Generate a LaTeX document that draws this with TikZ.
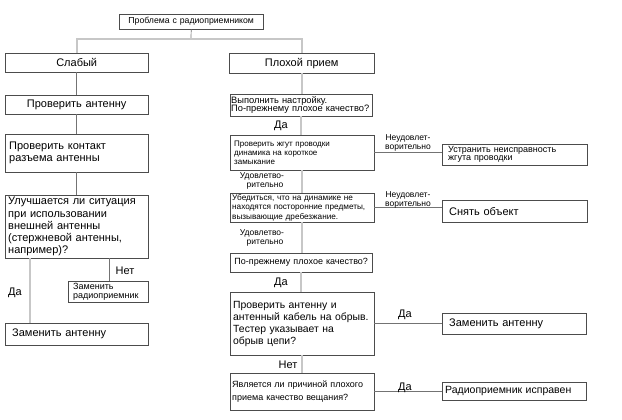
\documentclass[tikz,border=0pt]{standalone}
\usepackage{fontspec}
\setmainfont{Liberation Sans}
\usetikzlibrary{shadows}

\tikzset{
  box/.style={draw=black!70, fill=white, anchor=north west, align=left,
    inner xsep=4pt, inner ysep=1pt, font=\fontsize{8.5}{9}\selectfont,
    drop shadow={shadow xshift=1pt, shadow yshift=-1pt, fill=black!35, opacity=1}},
  bigtext/.style={font=\fontsize{11}{12.2}\selectfont},
  darkline/.style={draw=black!55, line width=0.7pt},
  lightline/.style={draw=black!22, line width=1.6pt},
  lbl/.style={inner sep=0pt, font=\fontsize{11}{12}\selectfont},
  smalllbl/.style={inner sep=0pt, align=center, font=\fontsize{8.5}{8.5}\selectfont}
}

\begin{document}
\begin{tikzpicture}[x=1pt, y=-1pt]
    \useasboundingbox (0,0) rectangle (622,420);

    % Define the positions of the boxes
    \coordinate (problemPos) at (119, 14);
    \coordinate (weakPos) at (5, 53);
    \coordinate (badPos) at (229, 53);
    \coordinate (antennaPos) at (5, 95);
    \coordinate (contactPos) at (5, 134);
    \coordinate (improvePos) at (5, 195);
    \coordinate (radioPos) at (68, 281);
    \coordinate (replaceLPos) at (5, 323);

    \coordinate (tunePos) at (230, 94);
    \coordinate (harnessPos) at (230, 135);
    \coordinate (speakerPos) at (230, 193);
    \coordinate (stillPos) at (230, 253);
    \coordinate (cablePos) at (230, 292);
    \coordinate (qualityPos) at (230, 373);

    \coordinate (fixPos) at (442, 144);
    \coordinate (removePos) at (442, 200);
    \coordinate (replaceRPos) at (442, 313);
    \coordinate (finePos) at (442, 382);

    \coordinate (fork) at (191, 39);
    \coordinate (yesLeft) at (30, 0);
    \coordinate (noLeft) at (109, 0);

    % Draw the boxes
    \node[box, align=center, minimum width=144, minimum height=15, text width=136,
      font=\fontsize{8.7}{9}\selectfont] (problem) at (problemPos) {Проблема с радиоприемником};

    \node[box, bigtext, align=center, minimum width=143, minimum height=19, text width=135] (weak) at (weakPos) {Слабый};
    \node[box, bigtext, align=center, minimum width=143, minimum height=19, text width=135] (antenna) at (antennaPos) {Проверить антенну};
    \node[box, bigtext, minimum width=143, minimum height=38, text width=135] (contact) at (contactPos)
      {Проверить контакт\\разъема антенны};
    \node[box, bigtext, minimum width=143, minimum height=63, text width=137, inner xsep=3pt] (improve) at (improvePos)
      {Улучшается ли ситуация\\при использовании\\внешней антенны\\(стержневой антенны,\\например)?};
    \node[box, inner xsep=5pt, minimum width=80, minimum height=21, text width=70,
      font=\fontsize{9}{9}\selectfont] (radio) at (radioPos)
      {Заменить\\радиоприемник};
    \node[box, bigtext, inner xsep=7pt, minimum width=143, minimum height=22, text width=129] (replaceL) at (replaceLPos)
      {Заменить антенну};

    \node[box, bigtext, align=center, minimum width=145, minimum height=20, text width=137] (bad) at (badPos) {Плохой прием};
    \node[box, inner xsep=1pt, minimum width=142, minimum height=22, text width=140,
      font=\fontsize{9.3}{8.5}\selectfont] (tune) at (tunePos)
      {Выполнить настройку.\\По-прежнему плохое качество?};
    \node[box, minimum width=144, minimum height=35, text width=136,
      font=\fontsize{8}{9.2}\selectfont] (harness) at (harnessPos)
      {Проверить жгут проводки\\динамика на короткое\\замыкание};
    \node[box, inner xsep=2pt, minimum width=144, minimum height=29, text width=140,
      font=\fontsize{8.2}{9.6}\selectfont] (speaker) at (speakerPos)
      {Убедиться, что на динамике не\\находятся посторонние предметы,\\вызывающие дребезжание.};
    \node[box, align=center, inner xsep=2pt, minimum width=142, minimum height=19, text width=138,
      font=\fontsize{9}{10}\selectfont] (still) at (stillPos)
      {По-прежнему плохое качество?};
    \node[box, minimum width=144, minimum height=63, text width=138, inner xsep=3pt,
      font=\fontsize{10.4}{12}\selectfont] (cable) at (cablePos)
      {Проверить антенну и\\антенный кабель на обрыв.\\Тестер указывает на\\обрыв цепи?};
    \node[box, inner xsep=2pt, minimum width=142, minimum height=37, text width=140,
      font=\fontsize{9}{12.5}\selectfont] (quality) at (qualityPos)
      {Является ли причиной плохого\\приема качество вещания?};

    \node[box, inner xsep=6pt, minimum width=145, minimum height=21, text width=133,
      font=\fontsize{9}{8}\selectfont] (fix) at (fixPos)
      {Устранить неисправность\\жгута проводки};
    \node[box, bigtext, inner xsep=7pt, minimum width=145, minimum height=22, text width=131] (remove) at (removePos)
      {Снять объект};
    \node[box, bigtext, inner xsep=7pt, minimum width=144, minimum height=21, text width=130] (replaceR) at (replaceRPos)
      {Заменить антенну};
    \node[box, inner xsep=3pt, minimum width=144, minimum height=18, text width=138,
      font=\fontsize{10.5}{12}\selectfont] (fine) at (finePos)
      {Радиоприемник исправен};

    % Draw the lines
    \draw[darkline] (problem.south) -- (fork);
    \draw[lightline] (weak.north) |- (fork) -| (bad.north);

    \draw[darkline] (weak.south) -- (weak.south |- antenna.north);
    \draw[darkline] (antenna.south) -- (antenna.south |- contact.north);
    \draw[darkline] (contact.south) -- (contact.south |- improve.north);
    \draw[darkline] (improve.south -| noLeft) -- (radio.north -| noLeft);
    \draw[lightline] (improve.south -| yesLeft) -- (replaceL.north -| yesLeft);

    \draw[lightline] (bad.south) -- (bad.south |- tune.north);
    \draw[lightline] (tune.south) -- (tune.south |- harness.north);
    \draw[lightline] (harness.south) -- (harness.south |- speaker.north);
    \draw[lightline] (speaker.south) -- (speaker.south |- still.north);
    \draw[lightline] (still.south) -- (still.south |- cable.north);
    \draw[lightline] (cable.south) -- (cable.south |- quality.north);

    \draw[darkline] (harness.east) -- (harness.east -| fix.west);
    \draw[darkline] (speaker.east) -- (speaker.east -| remove.west);
    \draw[darkline] (cable.east) -- (cable.east -| replaceR.west);
    \draw[darkline] (quality.east) -- (quality.east -| fine.west);

    % Draw the labels
    \node[lbl] (noL) at (125, 271) {Нет};
    \node[lbl] (yesL) at (15, 293) {Да};
    \node[lbl] (yesTune) at (281, 126) {Да};
    \node[lbl] (yesStill) at (281, 283) {Да};
    \node[lbl] (noCable) at (288, 365) {Нет};
    \node[lbl] (yesCable) at (405, 315) {Да};
    \node[lbl] (yesQuality) at (405, 388) {Да};

    \node[smalllbl] (badHarness) at (408, 143) {Неудовлет-\\ворительно};
    \node[smalllbl] (badSpeaker) at (408, 200) {Неудовлет-\\ворительно};
    \node[smalllbl] (okHarness) at (262, 181) {Удовлетво-\\\hspace*{6pt}рительно};
    \node[smalllbl] (okSpeaker) at (262, 238) {Удовлетво-\\\hspace*{6pt}рительно};

\end{tikzpicture}
\end{document}
